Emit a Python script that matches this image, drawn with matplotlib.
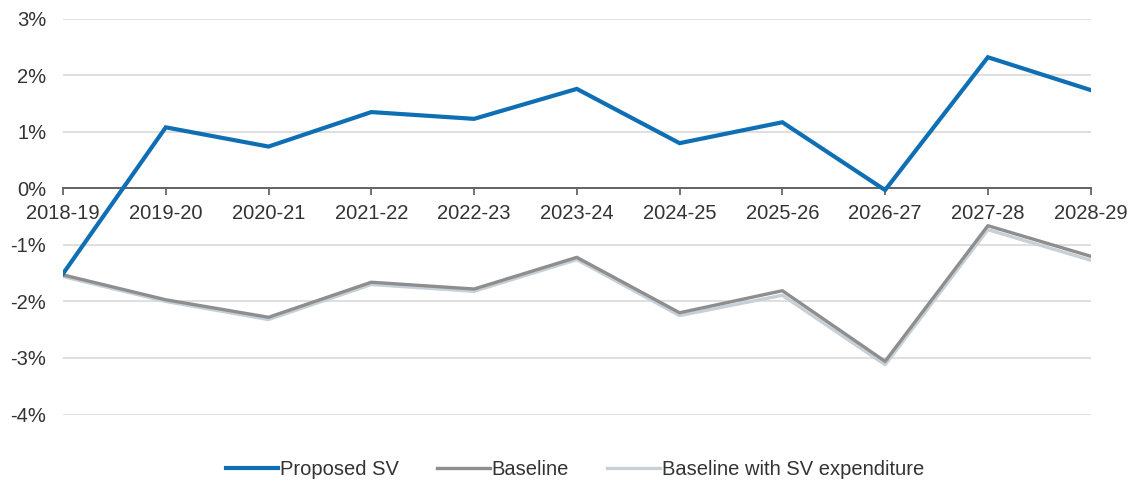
import matplotlib.pyplot as plt
from matplotlib.ticker import FuncFormatter

plt.rcParams['font.family'] = ['Liberation Sans', 'DejaVu Sans']

years = ['2018-19', '2019-20', '2020-21', '2021-22', '2022-23', '2023-24',
         '2024-25', '2025-26', '2026-27', '2027-28', '2028-29']

proposed_sv = [-1.51, 1.08, 0.74, 1.35, 1.23, 1.76, 0.80, 1.17, -0.03, 2.32, 1.74]
baseline = [-1.53, -1.97, -2.28, -1.66, -1.78, -1.22, -2.20, -1.81, -3.06, -0.66, -1.20]
baseline_sv = [-1.56, -2.00, -2.32, -1.70, -1.82, -1.26, -2.25, -1.89, -3.12, -0.73, -1.27]

fig = plt.figure(figsize=(11.33, 4.82), dpi=100)
ax = fig.add_axes([0.0556, 0.140, 0.907, 0.821])

x = list(range(len(years)))
ax.plot(x, proposed_sv, color='#0F6FB5', lw=3.0, label='Proposed SV', zorder=5,
        solid_joinstyle='miter')
ax.plot(x, baseline, color='#8E8E8E', lw=2.4, label='Baseline', zorder=4)
ax.plot(x, baseline_sv, color='#C6D0D6', lw=2.4, label='Baseline with SV expenditure', zorder=3)

ax.set_xlim(0, len(years) - 1)
ax.set_ylim(-4, 3)
ax.set_yticks(range(-4, 4))
ax.yaxis.set_major_formatter(FuncFormatter(lambda v, p: f'{v:.0f}%'))
ax.grid(axis='y', color='#D9D9D9', lw=1.2)
ax.set_axisbelow(True)

for side in ['top', 'right', 'left']:
    ax.spines[side].set_visible(False)
ax.spines['bottom'].set_position(('data', 0))
ax.spines['bottom'].set_color('#595959')
ax.spines['bottom'].set_linewidth(1.3)
ax.spines['bottom'].set_zorder(2)

ax.set_xticks(x)
ax.set_xticklabels(years)
ax.tick_params(axis='x', direction='out', length=5, width=1.2, color='#595959',
               labelsize=14.5, labelcolor='#333333', pad=6)
ax.tick_params(axis='y', length=0, labelsize=14.5, labelcolor='#333333', pad=12)

ax.legend(loc='center', bbox_to_anchor=(0.498, -0.14), ncol=3, frameon=False,
          fontsize=14.5, handlelength=2.6, handletextpad=0.1, columnspacing=1.9,
          labelcolor='#333333')

fig.savefig('out.png', dpi=100)
